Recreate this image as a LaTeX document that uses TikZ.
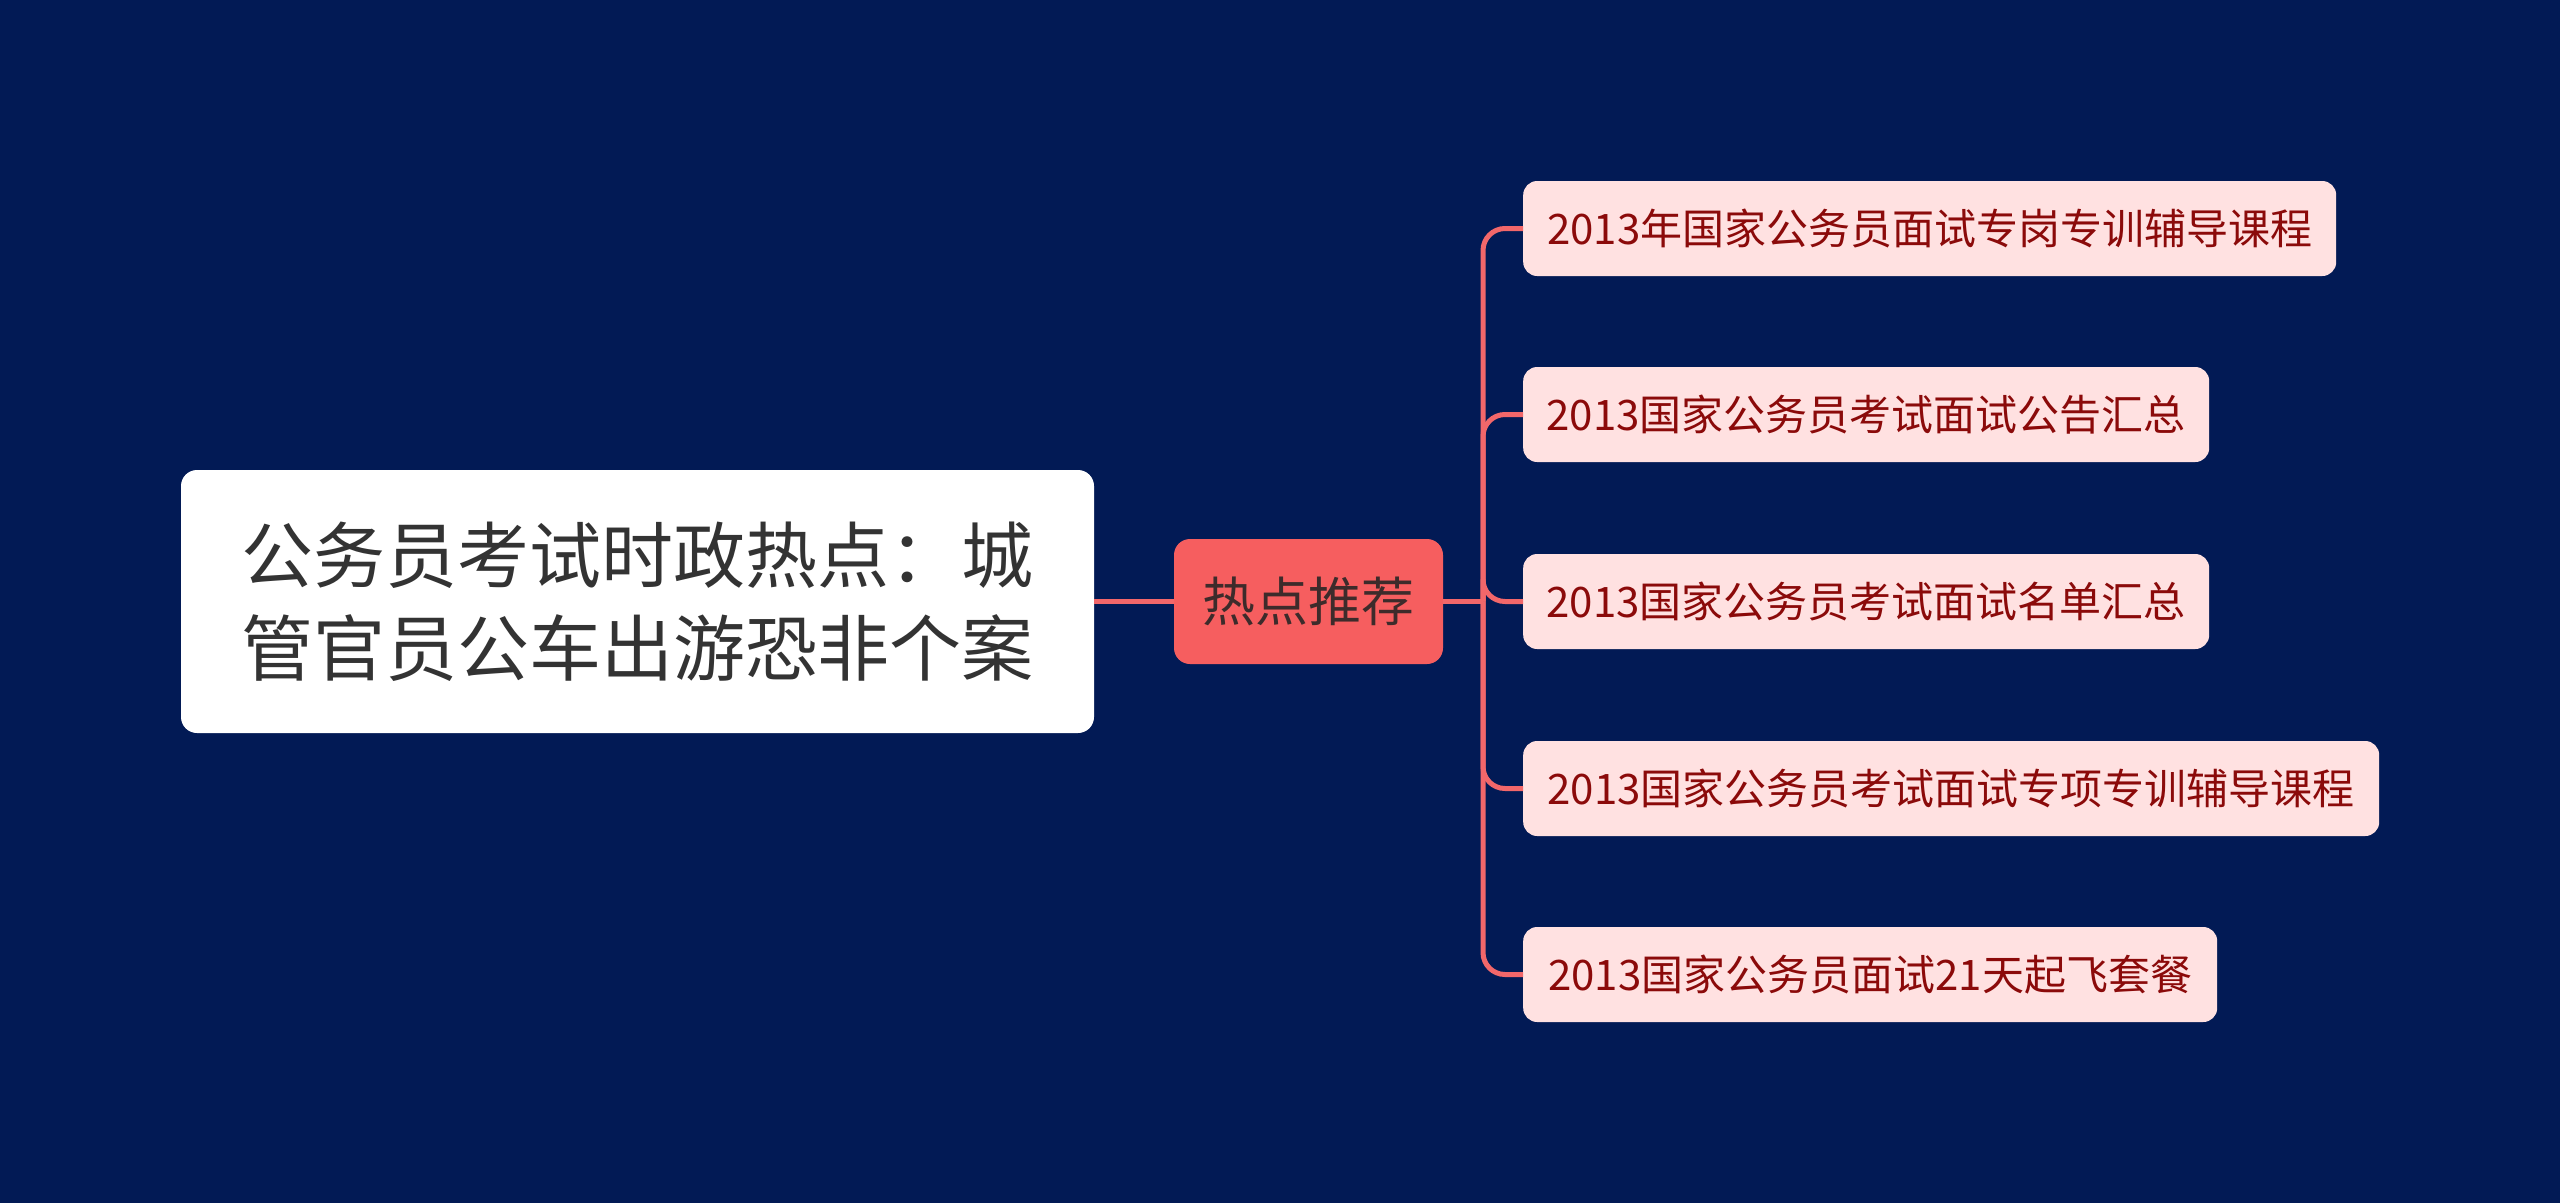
\documentclass[tikz,border=0pt]{standalone}
\usepackage{fontspec}
\newfontfamily\cjk{Noto Sans CJK SC}
\definecolor{bg}{HTML}{021A55}
\definecolor{linec}{HTML}{F2676A}
\definecolor{midfill}{HTML}{F65E5F}
\definecolor{midtext}{HTML}{3D2B2B}
\definecolor{leaffill}{HTML}{FFE1E1}
\definecolor{leaftext}{HTML}{8B0A0A}
\definecolor{roottext}{HTML}{333333}
\begin{document}
\begin{tikzpicture}[x=1pt,y=-1pt,
  rootbox/.style={fill=white,rounded corners=16pt,minimum width=913pt,minimum height=263pt,inner sep=0pt,align=center,text=roottext,font=\cjk\fontsize{72}{93}\selectfont},
  midbox/.style={fill=midfill,rounded corners=16pt,minimum width=269pt,minimum height=125pt,inner sep=0pt,text=midtext,font=\cjk\fontsize{53}{60}\selectfont},
  leafbox/.style={fill=leaffill,rounded corners=14pt,minimum height=95pt,inner sep=0pt,anchor=west,text=leaftext,font=\cjk\fontsize{42}{50}\selectfont},
  conn/.style={draw=linec,line width=5pt},
]
\fill[bg] (0,0) rectangle (2560,1203);
\useasboundingbox (0,0) rectangle (2560,1203);
\node[rootbox] (root) at (637.5,601.5) {公务员考试时政热点：城\\管官员公车出游恐非个案};
\node[midbox] (mid) at (1308.5,601.5) {热点推荐};
\node[leafbox,minimum width=813pt] (l1) at (1523,228.5) {2013年国家公务员面试专岗专训辅导课程};
\node[leafbox,minimum width=686pt] (l2) at (1523,414.5) {2013国家公务员考试面试公告汇总};
\node[leafbox,minimum width=686pt] (l3) at (1523,601.5) {2013国家公务员考试面试名单汇总};
\node[leafbox,minimum width=856pt] (l4) at (1523,788.5) {2013国家公务员考试面试专项专训辅导课程};
\node[leafbox,minimum width=694pt] (l5) at (1523,974.5) {2013国家公务员面试21天起飞套餐};
\coordinate (bus) at (1483,601.5);
\begin{scope}[on background layer/.style={}]
\end{scope}
\path[conn] (root.east) -- (mid.west);
\path[conn] (mid.east) -- (bus);
\foreach \n in {l1,l2,l3,l4,l5}{
  \path[conn,rounded corners=22pt] (bus) |- (\n.west);
}
\end{tikzpicture}
\end{document}
